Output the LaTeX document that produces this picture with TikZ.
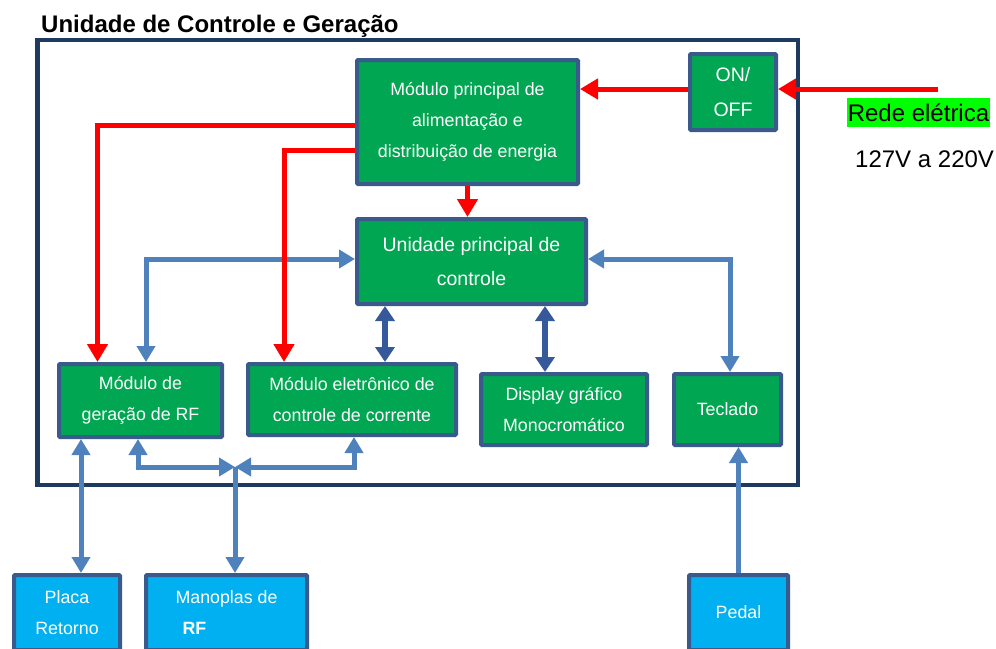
\documentclass[tikz,border=0pt]{standalone}
\usepackage{fontspec}
\setmainfont{Liberation Sans}
\usetikzlibrary{arrows.meta,calc}
\definecolor{boxgreen}{HTML}{00A651}
\definecolor{boxborder}{HTML}{3A5A8C}
\definecolor{frameblue}{HTML}{1F3A60}
\definecolor{lineblue}{HTML}{4F81BD}
\definecolor{darkline}{HTML}{35599A}
\definecolor{boxcyan}{HTML}{00B0F0}
\definecolor{mainsgreen}{HTML}{00FF00}
\definecolor{pwrred}{HTML}{FF0000}
\begin{document}
\begin{tikzpicture}[x=1pt,y=-1pt,
 gbox/.style={draw=boxborder, fill=boxgreen, line width=4pt, text=white, align=center, inner sep=1pt, rounded corners=1pt, font=\fontsize{17.8}{31}\selectfont},
 cbox/.style={gbox, fill=boxcyan},
 redarr/.style={draw=pwrred, line width=5pt, -{Triangle[length=18pt,width=20pt]}},
 bluearr/.style={draw=lineblue, line width=5pt, {Triangle[length=16pt,width=18pt]}-{Triangle[length=16pt,width=18pt]}},
 bluesingle/.style={draw=lineblue, line width=5pt, -{Triangle[length=16pt,width=18pt]}},
 darkarr/.style={draw=darkline, line width=6pt, {Triangle[length=15pt,width=19pt]}-{Triangle[length=15pt,width=19pt]}},
]
\useasboundingbox (0,0) rectangle (996,648);
\clip (0,0) rectangle (996,648);

% frame and title
\node[draw=frameblue, line width=4.5pt, minimum width=760.5pt, minimum height=445pt, inner sep=0] (frame) at (417.75,262.5) {};
\node[anchor=base west, inner sep=0, font=\fontsize{24}{28}\selectfont\bfseries] (title) at (41,32) {Unidade de Controle e Geração};

% boxes
\node[gbox, minimum width=221pt, minimum height=124pt] (pm) at (467.5,122) {Módulo principal de\\alimentação e\\distribuição de energia};
\node[gbox, minimum width=86pt, minimum height=76pt, font=\fontsize{19.5}{35}\selectfont] (oo) at (733,92) {ON/\\OFF};
\node[gbox, minimum width=229pt, minimum height=85pt, font=\fontsize{19.5}{34}\selectfont] (cu) at (471.5,261.5) {Unidade principal de\\controle};
\node[gbox, minimum width=163pt, minimum height=73pt] (rf) at (140.5,400.5) {Módulo de\\geração de RF};
\node[gbox, minimum width=208pt, minimum height=71pt] (cm) at (352,399.5) {Módulo eletrônico de\\controle de corrente};
\node[gbox, minimum width=166pt, minimum height=71pt] (dg) at (564,409.5) {Display gráfico\\Monocromático};
\node[gbox, minimum width=107pt, minimum height=71pt] (tk) at (727.5,409.5) {Teclado};
\node[cbox, minimum width=106pt, minimum height=75pt] (pr) at (67,612.5) {Placa\\Retorno};
\node[cbox, minimum width=161pt, minimum height=75pt, align=left] (mp) at (226.5,612.5) {Manoplas de\\\hspace*{7pt}\textbf{RF}};
\node[cbox, minimum width=99pt, minimum height=75pt] (pd) at (738.5,612.5) {Pedal};

% mains labels
\node[fill=mainsgreen, inner xsep=1pt, inner ysep=0pt, minimum height=29pt, font=\fontsize{24}{28}\selectfont] (rede) at (918.5,112.5) {Rede elétrica};
\node[anchor=base west, inner sep=0, font=\fontsize{24}{28}\selectfont] (volt) at (855,167) {127V a 220V};

% blue data connectors
\draw[bluearr] ([yshift=2.5pt]cu.west) -| ([xshift=5.5pt]rf.north);
\draw[bluearr] ([yshift=2.5pt]cu.east) -| ([xshift=2.5pt]tk.north);
\draw[darkarr] ($(cm.north)+(33,0)$) -- ($(cm.north |- cu.south)+(33,0)$);
\draw[darkarr] ($(dg.north)+(-19,0)$) -- ($(dg.north |- cu.south)+(-19,0)$);
\draw[bluearr] ($(pr.north)+(14,0)$) -- ($(pr.north |- rf.south)+(14,0)$);
\coordinate (jn) at (235,467);
\draw[bluearr] ([xshift=-2.5pt]rf.south) |- (jn);
\draw[bluearr] ([xshift=2pt]cm.south) |- (jn);
\draw[bluesingle] (jn) -- (jn |- mp.north);
\draw[bluesingle] (pd.north) -- (pd.north |- tk.south);

% red power connectors
\coordinate (mains) at (938,89);
\draw[redarr] (mains) -- (mains -| oo.east);
\draw[redarr] ([yshift=3pt]oo.west) -- ([yshift=3pt]oo.west -| pm.east);
\draw[redarr] (pm.south) -- (pm.south |- cu.north);
\draw[redarr] ([yshift=-3pt]pm.west) -| ([xshift=-43pt]rf.north);
\draw[redarr] ([yshift=-28.5pt]pm.west) -| ([xshift=-68pt]cm.north);
\end{tikzpicture}
\end{document}
